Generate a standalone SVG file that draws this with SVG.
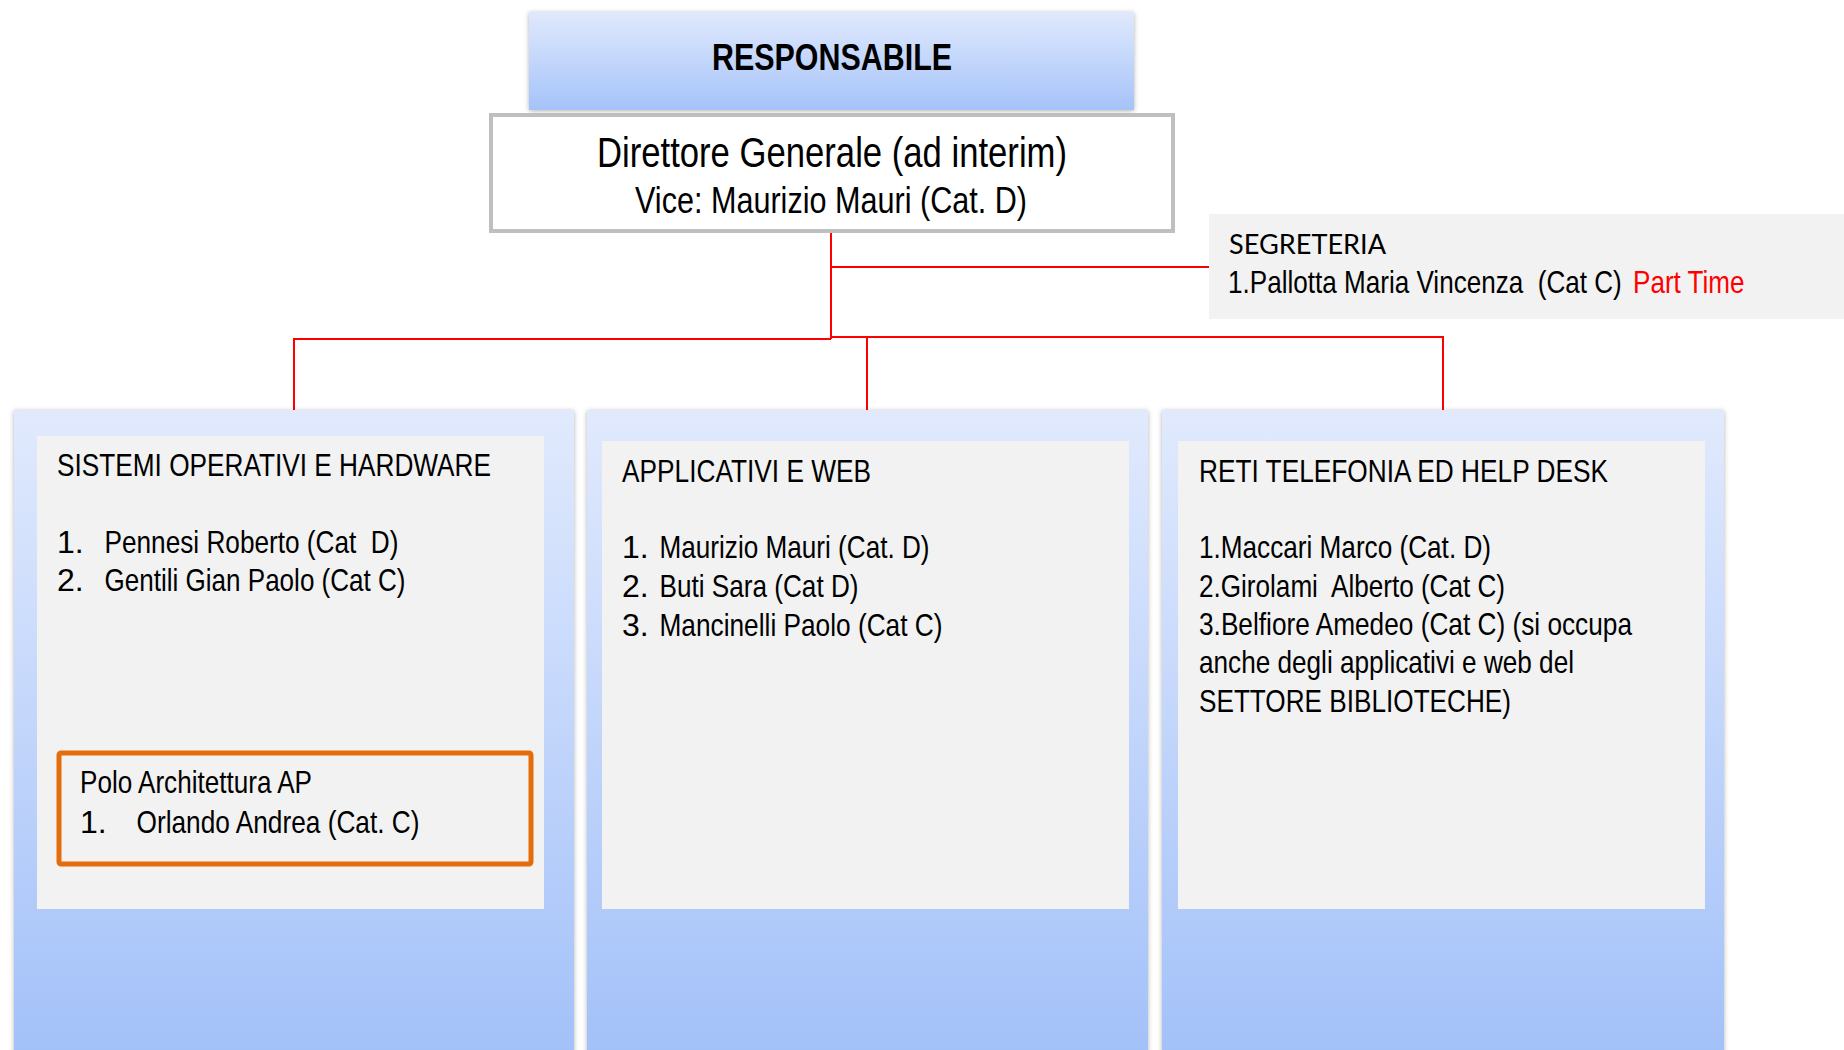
<svg xmlns="http://www.w3.org/2000/svg" width="1844" height="1050" viewBox="0 0 1844 1050">
  <defs>
    <linearGradient id="gHead" x1="0" y1="0" x2="0" y2="1">
      <stop offset="0" stop-color="#e0e9fd"/>
      <stop offset="1" stop-color="#a5c3f9"/>
    </linearGradient>
    <linearGradient id="gCol" gradientUnits="userSpaceOnUse" x1="0" y1="410" x2="0" y2="1050">
      <stop offset="0" stop-color="#e1eafd"/>
      <stop offset="1" stop-color="#a3c1f9"/>
    </linearGradient>
    <filter id="shadow" x="-5%" y="-5%" width="110%" height="115%">
      <feDropShadow dx="0" dy="1" stdDeviation="2.5" flood-color="#000" flood-opacity="0.3"/>
    </filter>
    <style>
      .t { font-family: "Liberation Sans Narrow", "Liberation Sans", Arial, sans-serif; fill: #000; }
      .w { font-family: "Liberation Sans", Arial, sans-serif; fill: #000; }
      .b { font-weight: bold; }
      .cal { font-family: Lato, "Open Sans", "Liberation Sans", sans-serif; fill: #000; }
      .red { fill: #ff0000; }
      .conn { stroke: #ff0000; stroke-width: 2; fill: none; }
      .inner { fill: #f2f2f2; }
      .col { fill: url(#gCol); filter: url(#shadow); }
    </style>
  </defs>
  <rect width="1844" height="1050" fill="#ffffff"/>

  <g id="connectors">
    <path class="conn" d="M831,232 V339"/>
    <path class="conn" d="M831,267 H1209"/>
    <path class="conn" d="M831,339 H294 V410"/>
    <path class="conn" d="M831,337 H1443 V410"/>
    <path class="conn" d="M867,337 V410"/>
  </g>

  <g id="responsabile">
    <rect x="529" y="12" width="605" height="98" fill="url(#gHead)" filter="url(#shadow)"/>
    <text class="t b" x="832" y="70" font-size="36" text-anchor="middle" textLength="240" lengthAdjust="spacingAndGlyphs">RESPONSABILE</text>
  </g>

  <g id="direttore">
    <rect x="491" y="115" width="682" height="116" fill="#ffffff" stroke="#bfbfbf" stroke-width="4"/>
    <text class="t" x="832" y="167" font-size="42" text-anchor="middle" textLength="470" lengthAdjust="spacingAndGlyphs">Direttore Generale (ad interim)</text>
    <text class="t" x="831" y="213" font-size="37" text-anchor="middle" textLength="392" lengthAdjust="spacingAndGlyphs">Vice: Maurizio Mauri (Cat. D)</text>
  </g>

  <g id="segreteria">
    <rect x="1209" y="214" width="635" height="105" fill="#f2f2f2"/>
    <text class="cal" x="1229" y="254" font-size="27" textLength="157" lengthAdjust="spacingAndGlyphs">SEGRETERIA</text>
    <text class="w" transform="translate(1228,293) scale(0.815,1)" font-size="32" xml:space="preserve">1.Pallotta Maria Vincenza  (Cat C)</text>
    <text class="w red" transform="translate(1633,293) scale(0.815,1)" font-size="32">Part Time</text>
  </g>

  <g id="sistemi">
    <rect class="col" x="14" y="410" width="560" height="660"/>
    <rect class="inner" x="37" y="436" width="507" height="473"/>
    <text class="t" x="57" y="476" font-size="32" textLength="434" lengthAdjust="spacingAndGlyphs">SISTEMI OPERATIVI E HARDWARE</text>
    <text class="t" x="57" y="553" font-size="32">1.</text>
    <text class="t" x="104.5" y="553" font-size="32" xml:space="preserve" textLength="294" lengthAdjust="spacingAndGlyphs">Pennesi Roberto (Cat  D)</text>
    <text class="t" x="57" y="591" font-size="32">2.</text>
    <text class="t" x="104.5" y="591" font-size="32" textLength="301" lengthAdjust="spacingAndGlyphs">Gentili Gian Paolo (Cat C)</text>
  </g>

  <g id="polo">
    <rect x="59" y="753" width="472" height="111" rx="2" fill="none" stroke="#e46c0a" stroke-width="5"/>
    <text class="t" x="80" y="793" font-size="32" textLength="232" lengthAdjust="spacingAndGlyphs">Polo Architettura AP</text>
    <text class="t" x="80" y="833" font-size="32">1.</text>
    <text class="t" x="136.5" y="833" font-size="32" textLength="283" lengthAdjust="spacingAndGlyphs">Orlando Andrea (Cat. C)</text>
  </g>

  <g id="applicativi">
    <rect class="col" x="587" y="410" width="561" height="660"/>
    <rect class="inner" x="602" y="441" width="527" height="468"/>
    <text class="t" x="622" y="482" font-size="32" textLength="249" lengthAdjust="spacingAndGlyphs">APPLICATIVI E WEB</text>
    <text class="t" x="622" y="558" font-size="32">1.</text>
    <text class="t" x="659.5" y="558" font-size="32" textLength="270" lengthAdjust="spacingAndGlyphs">Maurizio Mauri (Cat. D)</text>
    <text class="t" x="622" y="597" font-size="32">2.</text>
    <text class="t" x="659.5" y="597" font-size="32" textLength="199" lengthAdjust="spacingAndGlyphs">Buti Sara (Cat D)</text>
    <text class="t" x="622" y="636" font-size="32">3.</text>
    <text class="t" x="659.5" y="636" font-size="32" textLength="283" lengthAdjust="spacingAndGlyphs">Mancinelli Paolo (Cat C)</text>
  </g>

  <g id="reti">
    <rect class="col" x="1162" y="410" width="562" height="660"/>
    <rect class="inner" x="1178" y="441" width="527" height="468"/>
    <text class="t" x="1199" y="482" font-size="32" textLength="409" lengthAdjust="spacingAndGlyphs">RETI TELEFONIA ED HELP DESK</text>
    <text class="t" x="1199" y="558" font-size="32" textLength="292" lengthAdjust="spacingAndGlyphs">1.Maccari Marco (Cat. D)</text>
    <text class="t" x="1199" y="597" font-size="32" xml:space="preserve" textLength="306" lengthAdjust="spacingAndGlyphs">2.Girolami  Alberto (Cat C)</text>
    <text class="t" x="1199" y="635" font-size="32" textLength="433" lengthAdjust="spacingAndGlyphs">3.Belfiore Amedeo (Cat C) (si occupa</text>
    <text class="t" x="1199" y="673" font-size="32" textLength="375" lengthAdjust="spacingAndGlyphs">anche degli applicativi e web del</text>
    <text class="t" x="1199" y="712" font-size="32" textLength="312" lengthAdjust="spacingAndGlyphs">SETTORE BIBLIOTECHE)</text>
  </g>
</svg>
